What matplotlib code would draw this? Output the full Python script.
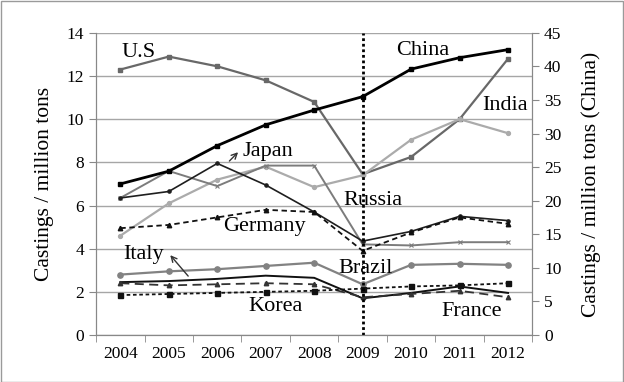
import matplotlib.pyplot as plt
from matplotlib.patches import Rectangle

plt.rcParams["font.family"] = ["Liberation Serif", "DejaVu Serif"]

years = ["2004", "2005", "2006", "2007", "2008", "2009", "2010", "2011", "2012"]

# China on the right axis, everyone else on the left (million tons)
china = [22.5, 24.4, 28.2, 31.3, 33.5, 35.5, 39.6, 41.3, 42.5]
us = [12.3, 12.9, 12.45, 11.8, 10.8, 7.45, 8.25, 10.0, 12.8]
india = [4.6, 6.1, 7.2, 7.8, 6.85, 7.4, 9.05, 10.0, 9.35]
russia = [6.35, 7.6, 6.9, 7.85, 7.85, 4.2, 4.15, 4.3, 4.3]
japan = [6.35, 6.65, 7.95, 6.95, 5.7, 4.35, 4.8, 5.5, 5.3]
germany = [4.95, 5.1, 5.45, 5.8, 5.7, 3.9, 4.75, 5.45, 5.15]
brazil = [2.8, 2.95, 3.05, 3.2, 3.35, 2.35, 3.25, 3.3, 3.25]
italy = [2.45, 2.5, 2.6, 2.75, 2.65, 1.7, 1.95, 2.25, 1.95]
france = [2.4, 2.3, 2.35, 2.4, 2.35, 1.75, 1.9, 2.05, 1.75]
korea = [1.85, 1.9, 1.95, 2.0, 2.05, 2.15, 2.25, 2.3, 2.4]

x = list(range(len(years)))

fig = plt.figure(figsize=(6.24, 3.82), dpi=100)
fig.patches.append(Rectangle((0.001, 0.001), 0.997, 0.997, transform=fig.transFigure,
                             fill=False, edgecolor="#9a9a9a", lw=1))
ax = fig.add_axes([0.154, 0.123, 0.699, 0.791])
ax2 = ax.twinx()

grid_c = "#a6a6a6"
ax.set_xlim(-0.5, 8.5)
ax.set_ylim(0, 14)
ax.set_yticks(range(0, 15, 2))
ax.grid(axis="y", color=grid_c, lw=1)
ax.set_axisbelow(True)
ax2.set_ylim(0, 45)
ax2.set_yticks(range(0, 46, 5))

ax.set_xticks(x)
ax.set_xticklabels(years)
ax.set_xticks([i - 0.5 for i in range(len(years) + 1)], minor=True)
ax.tick_params(axis="x", which="major", length=0, labelsize=12.5, pad=8)
ax.tick_params(axis="x", which="minor", length=5, color="#888888")
ax.tick_params(axis="y", length=5, color="#888888", labelsize=12.5)
ax2.tick_params(axis="y", length=5, color="#888888", labelsize=12.5)

for a in (ax, ax2):
    a.spines["top"].set_visible(False)
    for s in ("left", "right", "bottom"):
        a.spines[s].set_color("#888888")

ax.set_ylabel("Castings / million tons", fontsize=15.5, labelpad=9)
ax2.set_ylabel("Castings / million tons (China)", fontsize=15.5, rotation=90, labelpad=14)

ms = 3.2
ax.plot(x, us, color="#686868", lw=1.6, marker="s", ms=ms)
ax.plot(x, india, color="#ababab", lw=1.6, marker="o", ms=2.8)
ax.plot(x, russia, color="#7c7c7c", lw=1.4, marker="x", ms=ms, mew=0.8)
ax.plot(x, japan, color="#1e1e1e", lw=1.2, marker="o", ms=2.3)
ax.plot(x, germany, color="#111111", lw=1.3, ls=(0, (3, 2)), marker="^", ms=ms)
ax.plot(x, brazil, color="#828282", lw=1.6, marker="o", ms=3.8)
ax.plot(x, italy, color="#111111", lw=1.4)
ax.plot(x, france, color="#333333", lw=1.3, ls=(0, (5, 3)), marker="^", ms=ms)
ax.plot(x, korea, color="#111111", lw=1.3, ls=(0, (2, 1.5)), marker="s", ms=3.6)

ax2.plot(x, china, color="black", lw=2, marker="s", ms=3.5)
ax2.axvline(5, color="black", lw=2, ls=(0, (1, 1)))

label_kw = dict(fontsize=16, ha="center", va="center")
ax.text(0.37, 13.1, "U.S", **label_kw)
ax.text(6.25, 13.2, "China", **label_kw)
ax.text(7.94, 10.65, "India", **label_kw)
ax.text(3.05, 8.52, "Japan", **label_kw)
ax.text(5.22, 6.25, "Russia", **label_kw)
ax.text(2.97, 5.05, "Germany", **label_kw)
ax.text(0.47, 3.75, "Italy", **label_kw)
ax.text(5.07, 3.1, "Brazil", **label_kw)
ax.text(3.2, 1.34, "Korea", **label_kw)
ax.text(7.24, 1.11, "France", **label_kw)

arrow = dict(arrowstyle="->", color="#333333", lw=1, shrinkA=0, shrinkB=0)
ax.annotate("", xy=(2.43, 8.47), xytext=(2.25, 8.06), arrowprops=arrow)
ax.annotate("", xy=(1.03, 3.7), xytext=(1.4, 2.73), arrowprops=arrow)

fig.savefig("out.png", dpi=100)
